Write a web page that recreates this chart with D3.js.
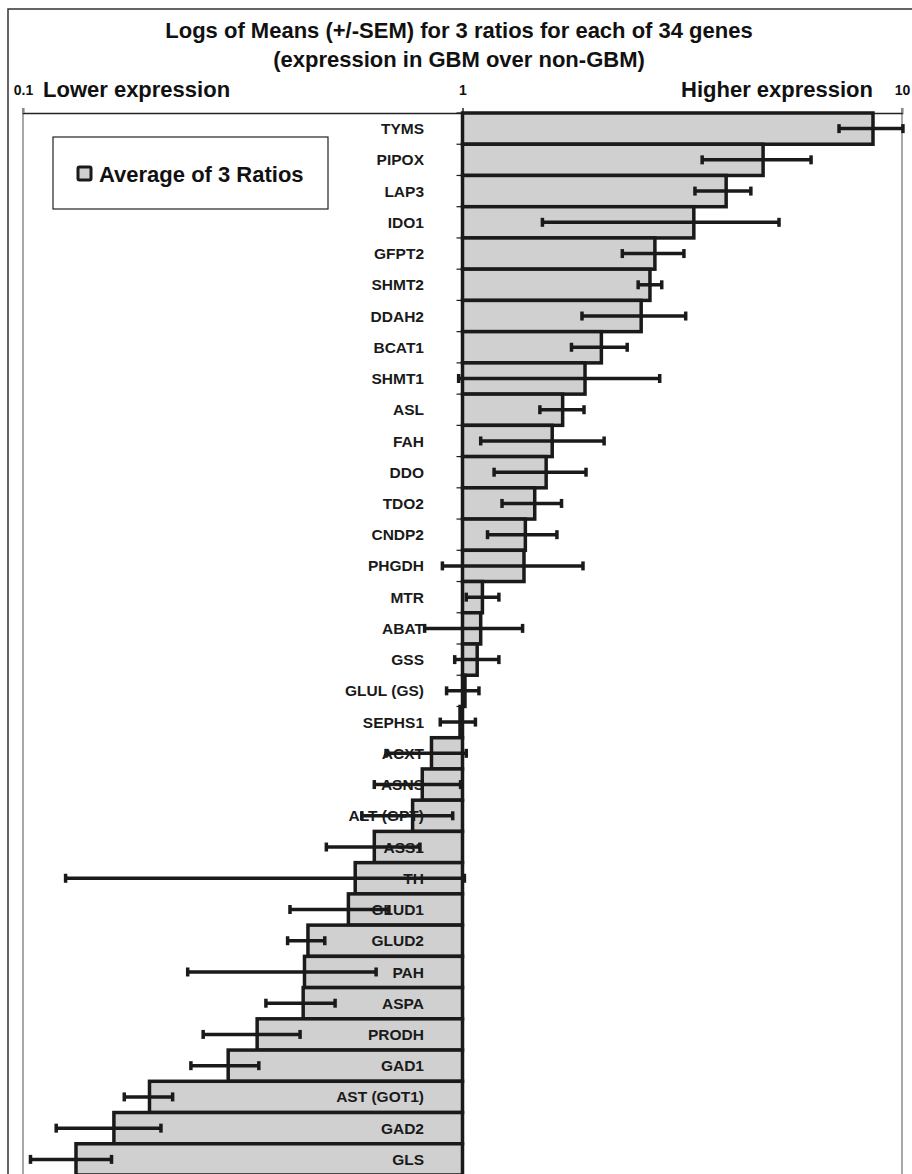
<!DOCTYPE html>
<html>
<head>
<meta charset="utf-8">
<script src="https://cdn.jsdelivr.net/npm/d3@7"></script>
<style>
  html, body { margin: 0; padding: 0; background: #fff; }
  svg { display: block; font-family: "Liberation Sans", Arial, Helvetica, sans-serif; }
</style>
</head>
<body>
<svg id="chart" width="912" height="1174"></svg>
<script>
// Genes, ordered from highest to lowest GBM / non-GBM ratio
const genes = ["TYMS", "PIPOX", "LAP3", "IDO1", "GFPT2", "SHMT2", "DDAH2", "BCAT1", "SHMT1",
  "ASL", "FAH", "DDO", "TDO2", "CNDP2", "PHGDH", "MTR", "ABAT", "GSS", "GLUL (GS)", "SEPHS1",
  "ACXT", "ASNS", "ALT (GPT)", "ASS1", "TH", "GLUD1", "GLUD2", "PAH", "ASPA", "PRODH", "GAD1",
  "AST (GOT1)", "GAD2", "GLS"];

// Mean of the 3 ratios for each gene
const meanRatio = [8.59, 4.83, 3.98, 3.36, 2.74, 2.67, 2.55, 2.07, 1.90,
  1.69, 1.60, 1.55, 1.46, 1.39, 1.38, 1.11, 1.10, 1.08, 1.013, 0.987,
  0.85, 0.81, 0.77, 0.63, 0.57, 0.55, 0.445, 0.437, 0.434, 0.341, 0.293,
  0.194, 0.161, 0.132];

// Mean - SEM
const semLow = [7.19, 3.51, 3.38, 1.52, 2.31, 2.51, 1.87, 1.77, 0.98,
  1.50, 1.10, 1.18, 1.23, 1.14, 0.90, 1.02, 0.82, 0.96, 0.92, 0.89,
  0.67, 0.63, 0.59, 0.49, 0.125, 0.405, 0.40, 0.237, 0.357, 0.257, 0.241,
  0.170, 0.119, 0.104];

// Mean + SEM
const semHigh = [10.05, 6.21, 4.53, 5.25, 3.19, 2.84, 3.22, 2.37, 2.81,
  1.89, 2.10, 1.91, 1.68, 1.64, 1.88, 1.21, 1.37, 1.21, 1.09, 1.07,
  1.02, 0.99, 0.95, 0.80, 1.01, 0.68, 0.486, 0.636, 0.513, 0.427, 0.344,
  0.219, 0.206, 0.159];

const tickValues = [0.1, 1, 10];
const tickLabels = ["0.1", "1", "10"];

const titleLines = ["Logs of Means (+/-SEM) for 3 ratios for each of 34 genes",
  "(expression in GBM over non-GBM)"];
const legendLabel = "Average of 3 Ratios";

const rows = genes.map((g, i) => ({ gene: g, mean: meanRatio[i], lo: semLow[i], hi: semHigh[i] }));

const svg = d3.select("#chart");
const ink = "#1a1a1a";
const barFill = "#d0d0d0";

const plot = { left: 23, right: 902, top: 113, bottom: 1175 };

const x = d3.scaleLog().domain([0.1, 10]).range([plot.left, plot.right]);
const y = d3.scaleBand().domain(genes).range([plot.top, plot.bottom]).padding(0);

// Outer frame
svg.append("rect")
  .attr("x", 8).attr("y", 9).attr("width", 940).attr("height", 1200)
  .attr("fill", "none").attr("stroke", "#333").attr("stroke-width", 1.5);

// Title
svg.append("g").selectAll("text").data(titleLines).join("text")
  .attr("x", 459).attr("y", (d, i) => 38 + i * 29)
  .attr("text-anchor", "middle")
  .attr("font-size", 22).attr("font-weight", "bold").attr("fill", "#111")
  .text(d => d);

// Plot area side borders
svg.append("line").attr("x1", plot.left).attr("x2", plot.left)
  .attr("y1", 108).attr("y2", 1174).attr("stroke", "#a8a8a8").attr("stroke-width", 2);
svg.append("line").attr("x1", plot.right).attr("x2", plot.right)
  .attr("y1", 108).attr("y2", 1174).attr("stroke", "#a8a8a8").attr("stroke-width", 2);

// Top value axis
const axisG = svg.append("g").attr("transform", `translate(0,${plot.top})`)
  .call(d3.axisTop(x).tickValues(tickValues).tickFormat((d, i) => tickLabels[i]).tickSize(5).tickPadding(13));
axisG.select(".domain").attr("stroke", "#222").attr("stroke-width", 1.5);
axisG.selectAll(".tick line").attr("stroke", (d) => d === 1 ? "#222" : "#888").attr("stroke-width", 1.5);
axisG.selectAll(".tick text")
  .attr("font-size", 14).attr("font-weight", "bold").attr("fill", "#111")
  .attr("font-family", "'Liberation Sans', Arial, sans-serif");

// Direction labels
svg.append("text").attr("x", 43).attr("y", 97)
  .attr("font-size", 22).attr("font-weight", "bold").attr("fill", "#111")
  .text("Lower expression");
svg.append("text").attr("x", 873).attr("y", 97).attr("text-anchor", "end")
  .attr("font-size", 22).attr("font-weight", "bold").attr("fill", "#111")
  .text("Higher expression");

// Category ticks at row boundaries (left of the ratio = 1 line)
svg.append("g").selectAll("line").data(genes).join("line")
  .attr("x1", x(1) - 6).attr("x2", x(1))
  .attr("y1", d => y(d)).attr("y2", d => y(d))
  .attr("stroke", ink).attr("stroke-width", 1.2);

// Bars from ratio 1 to the mean
svg.append("g").selectAll("rect").data(rows).join("rect")
  .attr("x", d => Math.min(x(1), x(d.mean)))
  .attr("y", d => y(d.gene))
  .attr("width", d => Math.abs(x(d.mean) - x(1)))
  .attr("height", y.bandwidth())
  .attr("fill", barFill)
  .attr("stroke", ink).attr("stroke-width", 3.5);

// Gene labels
svg.append("g").selectAll("text").data(rows).join("text")
  .attr("x", 424)
  .attr("y", d => y(d.gene) + y.bandwidth() / 2)
  .attr("dy", "0.36em")
  .attr("text-anchor", "end")
  .attr("font-size", 15.5).attr("font-weight", "bold").attr("fill", "#1a1a1a")
  .text(d => d.gene);

// SEM error bars
const err = svg.append("g").selectAll("g").data(rows).join("g")
  .attr("transform", d => `translate(0,${y(d.gene) + y.bandwidth() / 2})`);
err.append("line")
  .attr("x1", d => x(d.lo)).attr("x2", d => x(d.hi))
  .attr("stroke", ink).attr("stroke-width", 3.5);
err.append("line")
  .attr("x1", d => x(d.lo)).attr("x2", d => x(d.lo))
  .attr("y1", -4.5).attr("y2", 4.5)
  .attr("stroke", ink).attr("stroke-width", 3.5);
err.append("line")
  .attr("x1", d => x(d.hi)).attr("x2", d => x(d.hi))
  .attr("y1", -4.5).attr("y2", 4.5)
  .attr("stroke", ink).attr("stroke-width", 3.5);

// Legend
const lg = svg.append("g");
lg.append("rect").attr("x", 53).attr("y", 137).attr("width", 275).attr("height", 72)
  .attr("fill", "#fff").attr("stroke", "#222").attr("stroke-width", 1.2);
lg.append("rect").attr("x", 78).attr("y", 167).attr("width", 13).attr("height", 13)
  .attr("rx", 1.5)
  .attr("fill", barFill).attr("stroke", ink).attr("stroke-width", 3);
lg.append("text").attr("x", 99).attr("y", 182)
  .attr("font-size", 22).attr("font-weight", "bold").attr("fill", "#111")
  .text(legendLabel);
</script>
</body>
</html>
